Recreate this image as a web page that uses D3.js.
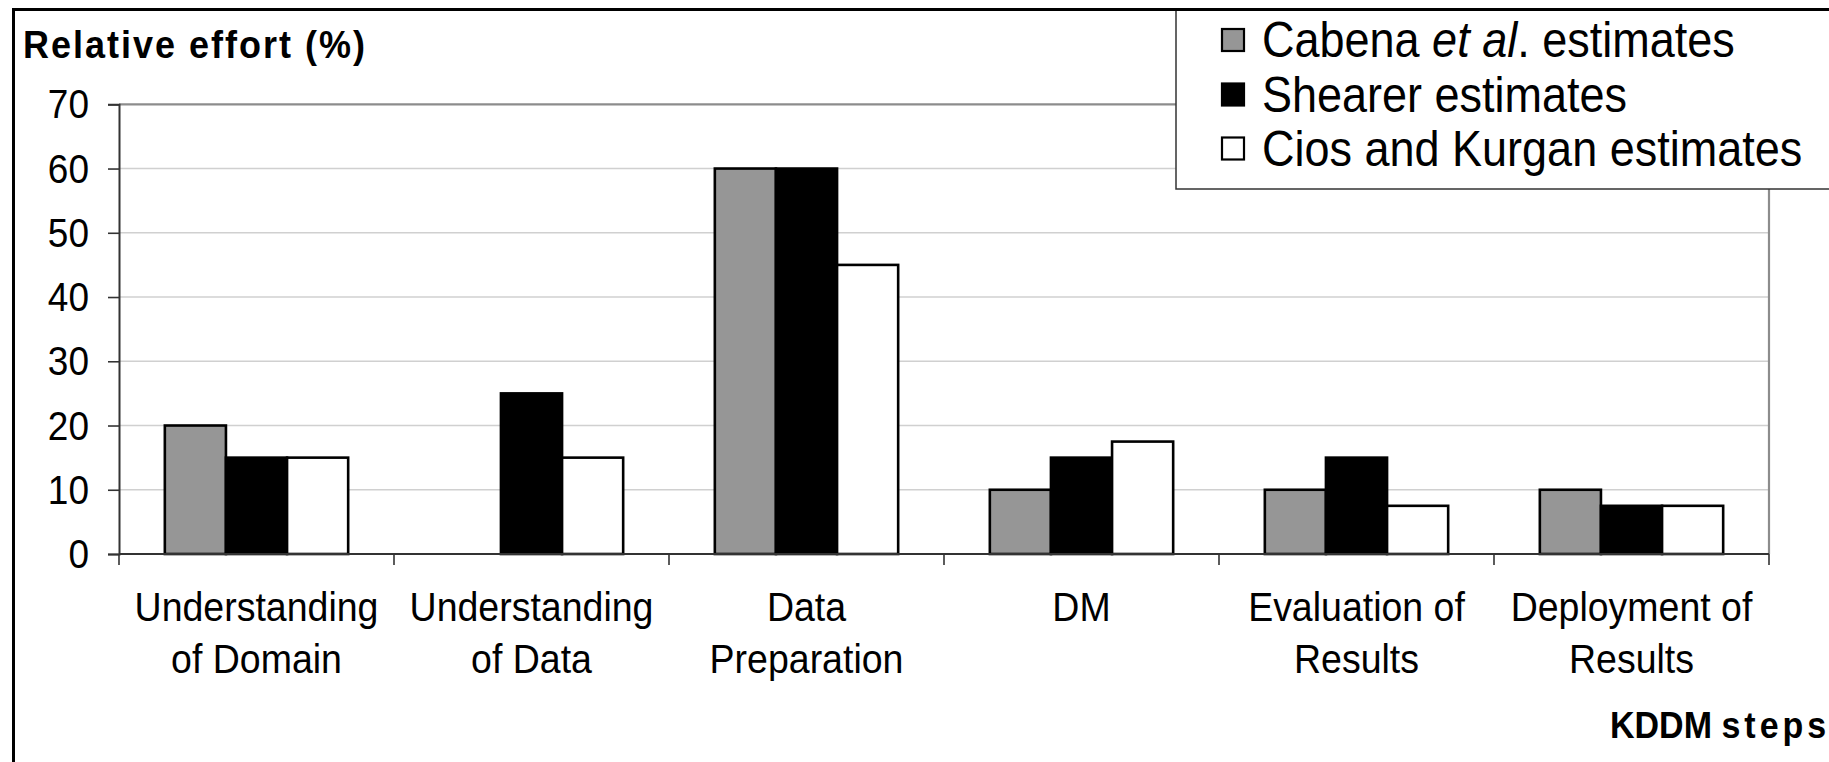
<!DOCTYPE html>
<html>
<head>
<meta charset="utf-8">
<script src="https://cdn.jsdelivr.net/npm/d3@7"></script>
<style>
  html, body { margin: 0; padding: 0; background: #fff; overflow: hidden; }
  svg { display: block; font-family: "Liberation Sans", Arial, sans-serif; }
</style>
</head>
<body>
<svg id="chart" width="1829" height="762"></svg>
<script>
// ---- Data ----
const categories = ["Understanding\nof Domain", "Understanding\nof Data", "Data\nPreparation", "DM", "Evaluation of\nResults", "Deployment of\nResults"];
const seriesNames = ["Cabena et al. estimates", "Shearer estimates", "Cios and Kurgan estimates"];
const cabena     = [20, null, 60, 10, 10, 10];
const shearer    = [15, 25, 60, 15, 15, 7.5];
const ciosKurgan = [15, 15, 45, 17.5, 7.5, 7.5];
const yTicks = [0, 10, 20, 30, 40, 50, 60, 70];
const yTitle = "Relative effort (%)";
const xTitle = "KDDM steps";

const seriesValues = [cabena, shearer, ciosKurgan];
const seriesColors = ["#969696", "#000000", "#ffffff"];

const svg = d3.select("#chart");
const W = 1829, H = 762;
const STRETCH = 1.1;

svg.append("rect").attr("width", W).attr("height", H).attr("fill", "#fff");

const plot = {left: 119, right: 1769, top: 104.3, bottom: 554};

const x = d3.scaleBand().domain(d3.range(categories.length))
  .range([plot.left, plot.right]).paddingInner(1/3).paddingOuter(1/6);
const xs = d3.scaleBand().domain(d3.range(seriesNames.length)).range([0, x.bandwidth()]).padding(0);
const y = d3.scaleLinear().domain([0, 70]).range([plot.bottom, plot.top]);

function stext(g, tx, ty, str, opts) {
  const t = g.append("text")
    .attr("transform", `translate(${tx},${ty}) scale(1,${STRETCH})`)
    .attr("font-size", opts.size)
    .attr("font-weight", opts.weight || "normal")
    .attr("text-anchor", opts.anchor || "start")
    .attr("fill", "#000");
  if (opts.ls) t.attr("letter-spacing", opts.ls);
  if (str !== null) t.text(str);
  return t;
}

// gridlines
svg.append("g").selectAll("line").data(yTicks.filter(d => d > 0 && d < 70)).join("line")
  .attr("x1", plot.left).attr("x2", plot.right)
  .attr("y1", d => y(d)).attr("y2", d => y(d))
  .attr("stroke", "#d0d0d0").attr("stroke-width", 1.6);

// plot border top and right
svg.append("line").attr("x1", plot.left).attr("x2", plot.right).attr("y1", y(70)).attr("y2", y(70))
  .attr("stroke", "#8c8c8c").attr("stroke-width", 2.2);
svg.append("line").attr("x1", plot.right).attr("x2", plot.right).attr("y1", y(70)).attr("y2", y(0))
  .attr("stroke", "#8c8c8c").attr("stroke-width", 2.2);

// bars
const groups = svg.append("g").selectAll("g").data(categories).join("g")
  .attr("transform", (d, i) => `translate(${x(i)},0)`);
groups.each(function(c, i) {
  const g = d3.select(this);
  seriesValues.forEach((vals, s) => {
    const v = vals[i];
    if (v === null || v === undefined) return;
    g.append("rect")
      .attr("x", xs(s)).attr("width", xs.bandwidth())
      .attr("y", y(v)).attr("height", y(0) - y(v))
      .attr("fill", seriesColors[s]).attr("stroke", "#000").attr("stroke-width", 2.6);
  });
});

// y axis
const yAxis = svg.append("g").attr("transform", `translate(${plot.left},0)`)
  .call(d3.axisLeft(y).tickValues(yTicks).tickSize(11).tickFormat(""));
yAxis.select(".domain").attr("stroke", "#333").attr("stroke-width", 2);
yAxis.selectAll(".tick line").attr("stroke", "#333").attr("stroke-width", 1.6);
yTicks.forEach(t => stext(svg, 89, y(t) + 14, String(t), {size: 37, anchor: "end"}));

// x axis
const boundaries = d3.range(categories.length + 1).map(i => plot.left + i * x.step());
const xAxisG = svg.append("g");
xAxisG.append("line").attr("x1", plot.left).attr("x2", plot.right).attr("y1", y(0)).attr("y2", y(0))
  .attr("stroke", "#333").attr("stroke-width", 2);
xAxisG.selectAll("line.tk").data(boundaries).join("line").attr("class", "tk")
  .attr("x1", d => d).attr("x2", d => d).attr("y1", y(0)).attr("y2", y(0) + 11)
  .attr("stroke", "#333").attr("stroke-width", 1.6);

categories.forEach((c, i) => {
  const cx = x(i) + x.bandwidth() / 2;
  c.split("\n").forEach((line, k) => {
    stext(svg, cx, 621 + k * 52, line, {size: 37.5, anchor: "middle"});
  });
});

// axis titles
stext(svg, 23, 58, yTitle, {size: 36, weight: "bold", ls: 2});
const kt = stext(svg, 1610, 738, null, {size: 34, weight: "bold"});
kt.append("tspan").text("KDDM ");
kt.append("tspan").attr("letter-spacing", 4).text("steps");

// legend
const lg = svg.append("g");
lg.append("rect").attr("x", 1176).attr("y", 9).attr("width", 700).attr("height", 180)
  .attr("fill", "#fff").attr("stroke", "#333").attr("stroke-width", 1.5);
const rowY = [40, 94.5, 148.5];
seriesNames.forEach((name, s) => {
  lg.append("rect").attr("x", 1222).attr("y", rowY[s] - 11).attr("width", 22).attr("height", 22)
    .attr("fill", seriesColors[s]).attr("stroke", "#000").attr("stroke-width", 2.2);
  const t = stext(lg, 1262, rowY[s] + 17, null, {size: 45});
  if (name.includes("et al.")) {
    const parts = name.split("et al.");
    t.append("tspan").text(parts[0]);
    t.append("tspan").attr("font-style", "italic").text("et al");
    t.append("tspan").text("." + parts[1]);
  } else {
    t.text(name);
  }
});

// outer frame
svg.append("rect").attr("x", 13.5).attr("y", 9.5).attr("width", W + 50).attr("height", H + 50)
  .attr("fill", "none").attr("stroke", "#000").attr("stroke-width", 3);
</script>
</body>
</html>
